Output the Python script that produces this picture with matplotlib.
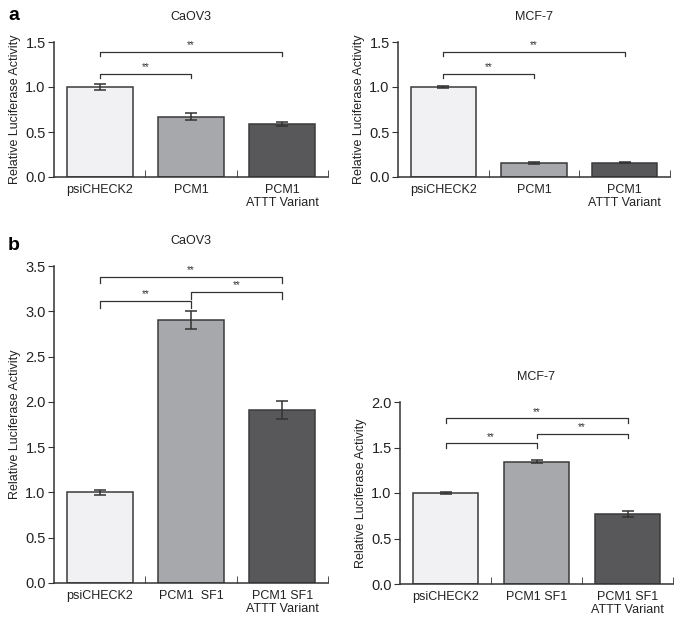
import numpy as np
import matplotlib.pyplot as plt

plt.rcParams['font.family'] = ['Liberation Sans', 'DejaVu Sans']

# Panel a
labels_a = ['psiCHECK2', 'PCM1', 'PCM1\nATTT Variant']
caov3_a = [1.0, 0.67, 0.59]
caov3_a_err = [0.03, 0.04, 0.025]
mcf7_a = [1.0, 0.16, 0.16]
mcf7_a_err = [0.01, 0.01, 0.006]

# Panel b
labels_b_caov3 = ['psiCHECK2', 'PCM1  SF1', 'PCM1 SF1\nATTT Variant']
labels_b_mcf7 = ['psiCHECK2', 'PCM1 SF1', 'PCM1 SF1\nATTT Variant']
caov3_b = [1.0, 2.9, 1.91]
caov3_b_err = [0.03, 0.1, 0.1]
mcf7_b = [1.0, 1.345, 0.77]
mcf7_b_err = [0.01, 0.02, 0.03]

bar_colors = ['#f1f1f3', '#a7a8ac', '#58585a']


def panel(ax, vals, errs, labels, title, ymax, ystep, brackets, drop):
    x = np.arange(3)
    ax.bar(x, vals, width=0.72, color=bar_colors, edgecolor='#3a3a3a', linewidth=1.1, zorder=2)
    ax.errorbar(x, vals, yerr=errs, fmt='none', ecolor='#333333', elinewidth=1.1,
                capsize=4, capthick=1.1, zorder=3)
    ax.set_xlim(-0.5, 2.5)
    ax.set_ylim(0, ymax)
    ax.set_yticks(np.arange(0, ymax + 0.001, ystep))
    ax.yaxis.set_major_formatter(plt.FormatStrFormatter('%.1f'))
    ax.set_xticks(x)
    ax.set_xticklabels(labels, fontsize=9, color='#222222', linespacing=1.15)
    ax.tick_params(axis='x', length=0, pad=5)
    ax.set_xticks([0.5, 1.5, 2.5], minor=True)
    ax.tick_params(axis='x', which='minor', direction='in', length=5, color='#333333')
    ax.tick_params(axis='y', direction='out', length=4, labelsize=10.5, color='#333333',
                   labelcolor='#222222', pad=2)
    for s in ['top', 'right']:
        ax.spines[s].set_visible(False)
    for s in ['left', 'bottom']:
        ax.spines[s].set_color('#333333')
        ax.spines[s].set_linewidth(1.1)
    ax.set_ylabel('Relative Luciferase Activity', fontsize=9, color='#222222', labelpad=3)
    ax.set_title(title, fontsize=9, color='#222222', pad=16)
    for i, j, h in brackets:
        ax.plot([i, i, j, j], [h - drop, h, h, h - drop], color='#333333', lw=0.9)
        ax.text((i + j) / 2, h + drop * 0.3, '**', ha='center', va='bottom', fontsize=7,
                color='#333333')


fig = plt.figure(figsize=(6.83, 6.28), dpi=100)

ax1 = fig.add_axes([54 / 683, 1 - 177 / 628, 274 / 683, 135 / 628])
panel(ax1, caov3_a, caov3_a_err, labels_a, 'CaOV3', 1.5, 0.5,
      [(0, 1, 1.15), (0, 2, 1.39)], 0.05)

ax2 = fig.add_axes([398 / 683, 1 - 177 / 628, 272 / 683, 135 / 628])
panel(ax2, mcf7_a, mcf7_a_err, labels_a, 'MCF-7', 1.5, 0.5,
      [(0, 1, 1.15), (0, 2, 1.39)], 0.05)

ax3 = fig.add_axes([54 / 683, 1 - 583 / 628, 274 / 683, 317 / 628])
panel(ax3, caov3_b, caov3_b_err, labels_b_caov3, 'CaOV3', 3.5, 0.5,
      [(0, 1, 3.11), (1, 2, 3.21), (0, 2, 3.38)], 0.07)

ax4 = fig.add_axes([400 / 683, 1 - 584 / 628, 273 / 683, 182 / 628])
panel(ax4, mcf7_b, mcf7_b_err, labels_b_mcf7, 'MCF-7', 2.0, 0.5,
      [(0, 1, 1.55), (1, 2, 1.65), (0, 2, 1.82)], 0.05)

fig.text(8 / 683, 1 - 16 / 628, 'a', fontsize=14, fontweight='bold', va='center')
fig.text(8 / 683, 1 - 246 / 628, 'b', fontsize=14, fontweight='bold', va='center')

fig.savefig('out.png', dpi=100)
